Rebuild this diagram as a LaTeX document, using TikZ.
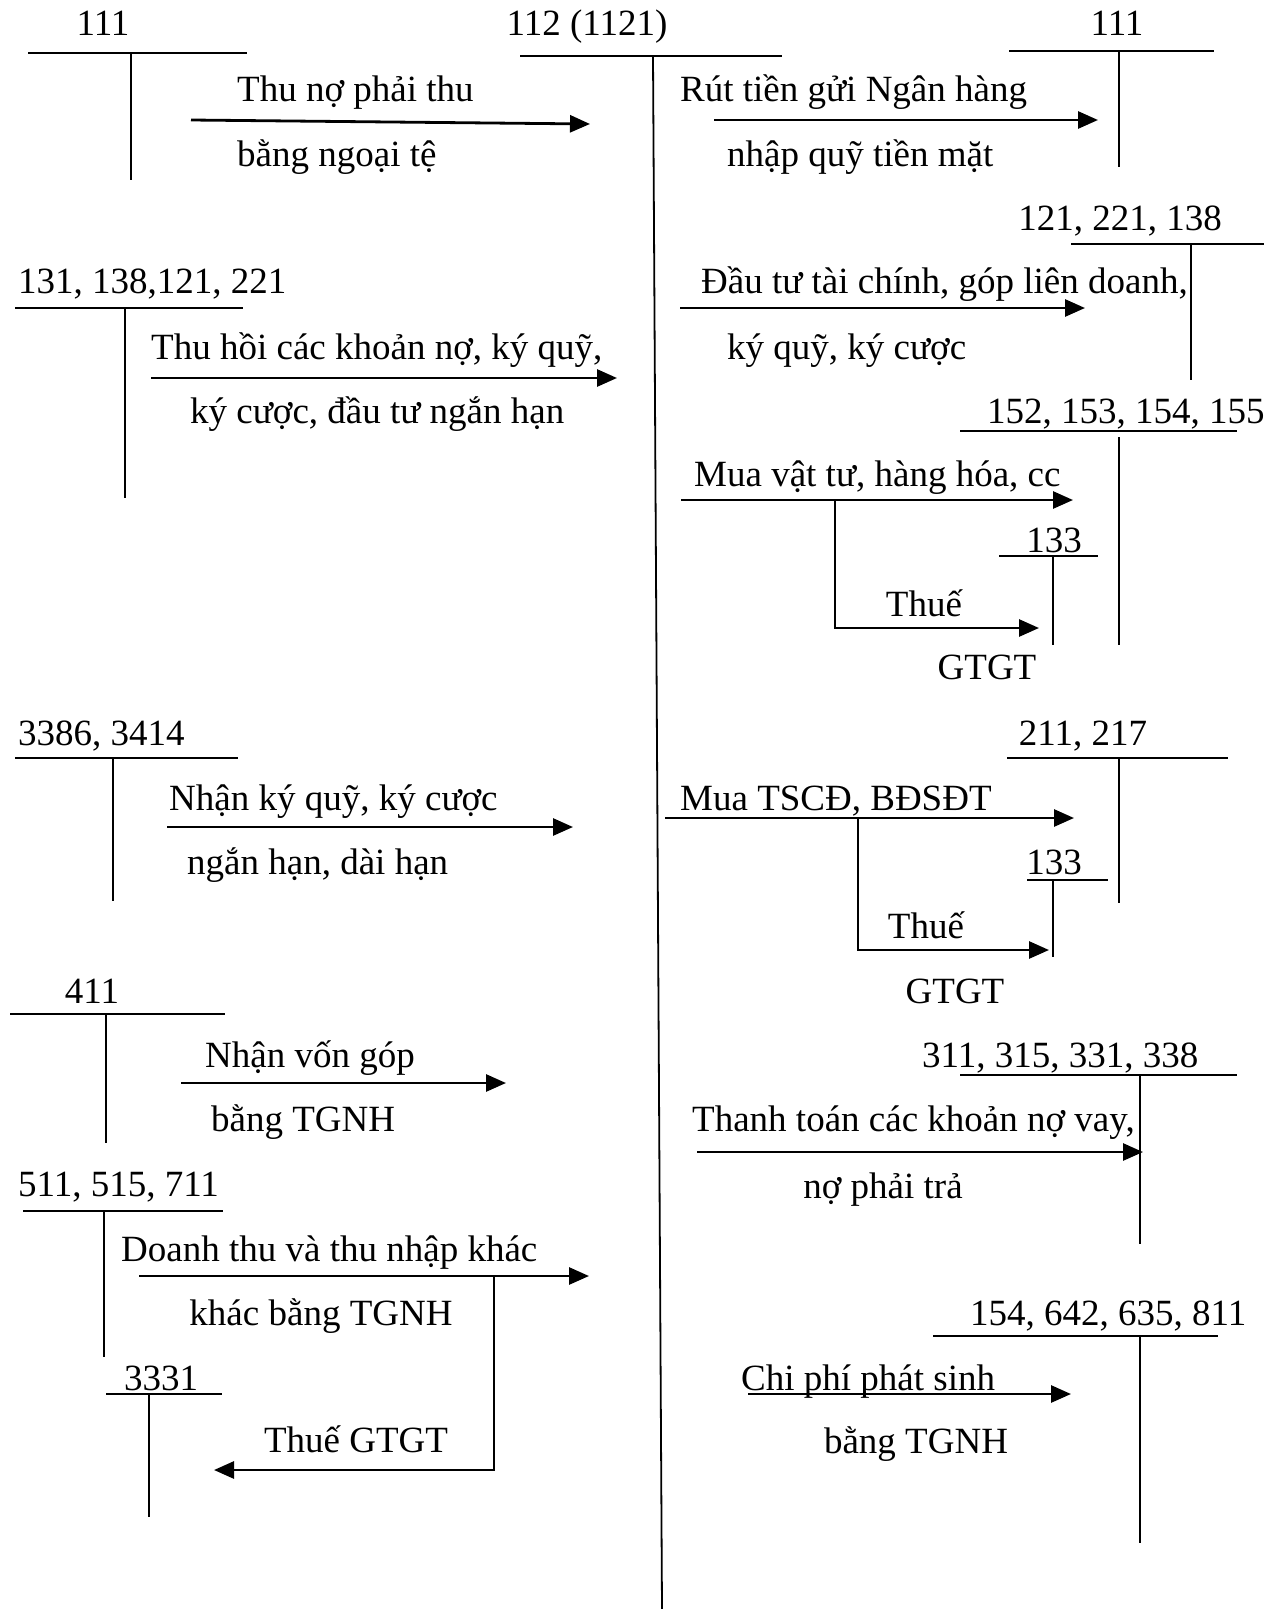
\documentclass[tikz,border=0pt]{standalone}
\usepackage{fontspec}
\setmainfont{Liberation Serif}
\usetikzlibrary{arrows.meta}
\tikzstyle{acct}=[line width=1.8pt]
\tikzstyle{edge}=[line width=2.8pt, -{Triangle[length=20pt,width=17pt]}]
\tikzstyle{lbl}=[inner sep=0pt, anchor=base, font=\fontsize{37}{44}\selectfont]
\tikzstyle{lblw}=[inner sep=0pt, anchor=base west, font=\fontsize{37}{44}\selectfont]

\begin{document}
\begin{tikzpicture}[x=1pt, y=-1pt]
	\useasboundingbox (0,0) rectangle (1280,1609);
	% tai khoan 112
	\draw (587,35) node[lbl] (n112) {112 (1121)};
	\draw[acct] (520,56) -- (782,56);
	\draw[acct] (653,56) -- (662,1609);
	%
	% ben trai
	\draw (103,35) node[lbl] (n111a) {111};
	\draw[acct] (28,53) -- (247,53);
	\draw[acct] (131,53) -- (131,180);
	\draw (237,101) node[lblw] (t1a) {Thu nợ phải thu};
	\draw (237,166) node[lblw] (t1b) {bằng ngoại tệ};
	\coordinate (a1s) at (191,120);
	\coordinate (a1e) at (590,124);
	\draw[edge] (a1s) -- (a1e);
	%
	\draw (18,293) node[lblw] (n131) {131, 138,121, 221};
	\draw[acct] (15,308) -- (243,308);
	\draw[acct] (125,308) -- (125,498);
	\draw (151,359) node[lblw] (t2a) {Thu hồi các khoản nợ, ký quỹ,};
	\draw (190,423) node[lblw] (t2b) {ký cược, đầu tư ngắn hạn};
	\coordinate (a2s) at (151,378);
	\coordinate (a2e) at (617,378);
	\draw[edge] (a2s) -- (a2e);
	%
	\draw (18,745) node[lblw] (n3386) {3386, 3414};
	\draw[acct] (15,758) -- (238,758);
	\draw[acct] (113,758) -- (113,901);
	\draw (169,810) node[lblw] (t3a) {Nhận ký quỹ, ký cược};
	\draw (187,874) node[lblw] (t3b) {ngắn hạn, dài hạn};
	\coordinate (a3s) at (167,827);
	\coordinate (a3e) at (573,827);
	\draw[edge] (a3s) -- (a3e);
	%
	\draw (92,1003) node[lbl] (n411) {411};
	\draw[acct] (10,1014) -- (225,1014);
	\draw[acct] (106,1014) -- (106,1143);
	\draw (205,1067) node[lblw] (t4a) {Nhận vốn góp};
	\draw (211,1131) node[lblw] (t4b) {bằng TGNH};
	\coordinate (a4s) at (181,1083);
	\coordinate (a4e) at (506,1083);
	\draw[edge] (a4s) -- (a4e);
	%
	\draw (18,1196) node[lblw] (n511) {511, 515, 711};
	\draw[acct] (23,1211) -- (223,1211);
	\draw[acct] (104,1211) -- (104,1357);
	\draw (121,1261) node[lblw] (t5a) {Doanh thu và thu nhập khác};
	\draw (321,1325) node[lbl] (t5b) {khác bằng TGNH};
	\coordinate (a5s) at (139,1276);
	\coordinate (a5e) at (589,1276);
	\draw[edge] (a5s) -- (a5e);
	\draw (161,1390) node[lbl] (n3331) {3331};
	\draw[acct] (106,1394) -- (222,1394);
	\draw[acct] (149,1394) -- (149,1517);
	\draw (356,1452) node[lbl] (t5c) {Thuế GTGT};
	\coordinate (b5s) at (494,1276);
	\coordinate (b5e) at (214,1470);
	\draw[edge] (b5s) |- (b5e);
	%
	% ben phai
	\draw (1117,35) node[lbl] (n111b) {111};
	\draw[acct] (1009,51) -- (1214,51);
	\draw[acct] (1119,51) -- (1119,167);
	\draw (680,101) node[lblw] (t6a) {Rút tiền gửi Ngân hàng};
	\draw (727,166) node[lblw] (t6b) {nhập quỹ tiền mặt};
	\coordinate (a6s) at (714,120);
	\coordinate (a6e) at (1098,120);
	\draw[edge] (a6s) -- (a6e);
	%
	\draw (1120,230) node[lbl] (n121) {121, 221, 138};
	\draw[acct] (1071,244) -- (1264,244);
	\draw[acct] (1191,244) -- (1191,380);
	\draw (701,293) node[lblw] (t7a) {Đầu tư tài chính, góp liên doanh,};
	\draw (727,359) node[lblw] (t7b) {ký quỹ, ký cược};
	\coordinate (a7s) at (680,308);
	\coordinate (a7e) at (1085,308);
	\draw[edge] (a7s) -- (a7e);
	%
	\draw (987,423) node[lblw] (n152) {152, 153, 154, 155};
	\draw[acct] (960,431) -- (1237,431);
	\draw[acct] (1119,437) -- (1119,645);
	\draw (694,486) node[lblw] (t8a) {Mua vật tư, hàng hóa, cc};
	\coordinate (a8s) at (681,500);
	\coordinate (a8e) at (1073,500);
	\draw[edge] (a8s) -- (a8e);
	\draw (1054,552) node[lbl] (n133a) {133};
	\draw[acct] (999,556) -- (1098,556);
	\draw[acct] (1053,556) -- (1053,645);
	\draw (924,616) node[lbl] (t8b) {Thuế};
	\draw (987,679) node[lbl] (t8c) {GTGT};
	\coordinate (b8s) at (835,500);
	\coordinate (b8e) at (1039,628);
	\draw[edge] (b8s) |- (b8e);
	%
	\draw (1083,745) node[lbl] (n211) {211, 217};
	\draw[acct] (1007,758) -- (1228,758);
	\draw[acct] (1119,758) -- (1119,903);
	\draw (680,810) node[lblw] (t9a) {Mua TSCĐ, BĐSĐT};
	\coordinate (a9s) at (665,818);
	\coordinate (a9e) at (1074,818);
	\draw[edge] (a9s) -- (a9e);
	\draw (1054,874) node[lbl] (n133b) {133};
	\draw[acct] (1027,880) -- (1108,880);
	\draw[acct] (1053,880) -- (1053,957);
	\draw (926,938) node[lbl] (t9b) {Thuế};
	\draw (955,1003) node[lbl] (t9c) {GTGT};
	\coordinate (b9s) at (858,818);
	\coordinate (b9e) at (1049,950);
	\draw[edge] (b9s) |- (b9e);
	%
	\draw (922,1067) node[lblw] (n311) {311, 315, 331, 338};
	\draw[acct] (960,1075) -- (1237,1075);
	\draw[acct] (1140,1075) -- (1140,1244);
	\draw (692,1131) node[lblw] (t10a) {Thanh toán các khoản nợ vay,};
	\draw (883,1198) node[lbl] (t10b) {nợ phải trả};
	\coordinate (a10s) at (697,1152);
	\coordinate (a10e) at (1143,1152);
	\draw[edge] (a10s) -- (a10e);
	%
	\draw (970,1325) node[lblw] (n154) {154, 642, 635, 811};
	\draw[acct] (933,1336) -- (1218,1336);
	\draw[acct] (1140,1336) -- (1140,1543);
	\draw (741,1390) node[lblw] (t11a) {Chi phí phát sinh};
	\draw (916,1453) node[lbl] (t11b) {bằng TGNH};
	\coordinate (a11s) at (748,1394);
	\coordinate (a11e) at (1071,1394);
	\draw[edge] (a11s) -- (a11e);
\end{tikzpicture}
\end{document}
